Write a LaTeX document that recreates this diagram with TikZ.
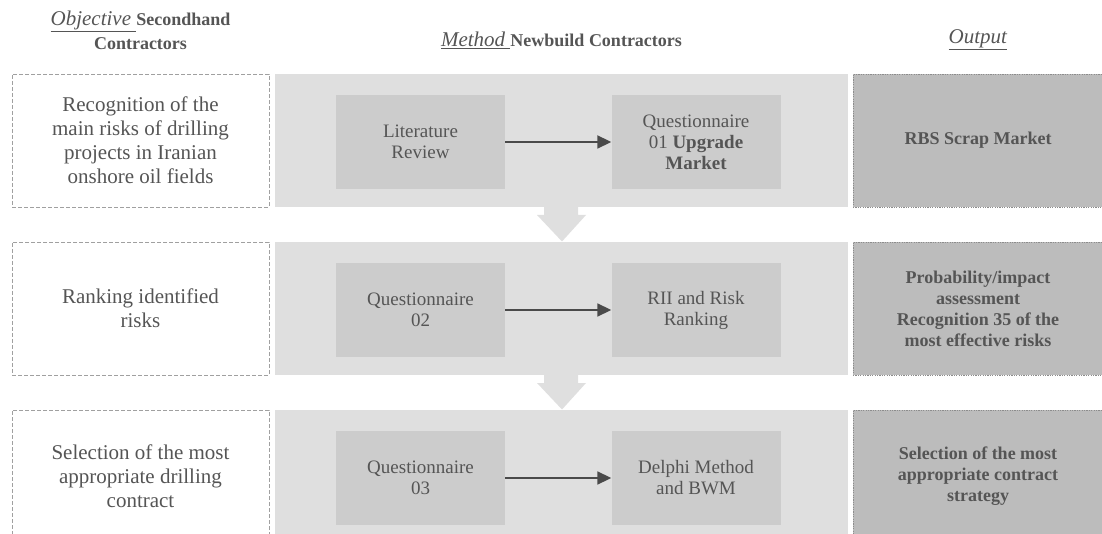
\documentclass[tikz,border=0pt]{standalone}
\usepackage{fontspec}
\setmainfont{Liberation Serif}
\usetikzlibrary{arrows.meta}
\definecolor{panelc}{HTML}{DFDFDF}
\definecolor{innerc}{HTML}{CCCCCC}
\definecolor{outc}{HTML}{BCBCBC}
\definecolor{txtc}{HTML}{555555}
\definecolor{arrc}{HTML}{4A4A4A}
\definecolor{dashc}{HTML}{A0A0A0}
\definecolor{dotc}{HTML}{8C8C8C}
\tikzset{
  objbox/.style={draw=dashc, line width=0.8pt, dash pattern=on 4pt off 2pt, fill=white,
    minimum width=257pt, minimum height=133pt, inner sep=0pt, align=center, text=txtc,
    font=\fontsize{21}{24}\selectfont},
  panelbox/.style={fill=panelc, minimum width=573pt, minimum height=133pt, inner sep=0pt},
  innerbox/.style={fill=innerc, minimum width=169pt, minimum height=94pt, inner sep=0pt,
    align=center, text=txtc, font=\fontsize{19}{21}\selectfont},
  outbox/.style={fill=outc, draw=dotc, line width=0.8pt, dash pattern=on 1.2pt off 1.2pt,
    minimum width=250pt, minimum height=133pt, inner sep=0pt, align=center, text=txtc,
    font=\bfseries\fontsize{18}{21}\selectfont},
  headtxt/.style={align=center, text=txtc, inner sep=0pt, font=\bfseries\fontsize{18}{24}\selectfont},
  flowarr/.style={draw=arrc, line width=1.8pt, -{Triangle[length=14pt,width=13pt]}},
  downarr/.style={fill=panelc}
}
\newcommand{\hdital}[1]{{\mdseries\fontsize{21}{24}\selectfont\underline{\textit{#1}}}}
\begin{document}
\begin{tikzpicture}[x=1pt,y=-1pt]
\useasboundingbox (0,0) rectangle (1102,534);
\clip (0,0) rectangle (1102,534);

% headers
\node[headtxt] (h1) at (140.5,30) {\hdital{Objective\ }Secondhand\\Contractors};
\node[headtxt] (h2) at (561.5,40) {\hdital{Method\ }Newbuild Contractors};
\node[headtxt] (h3) at (978,40) {\hdital{Output}};

% row 1
\node[objbox] (o1) at (140.5,140.5) {Recognition of the\\main risks of drilling\\projects in Iranian\\onshore oil fields};
\node[panelbox] (p1) at (561.5,140.5) {};
\node[innerbox] (a1) at (420.5,142) {Literature\\Review};
\node[innerbox] (b1) at (696,142) {Questionnaire\\01 \textbf{Upgrade}\\\textbf{Market}};
\node[outbox] (c1) at (978,140.5) {RBS Scrap Market};
\draw[flowarr] (a1) -- (b1);

% row 2
\node[objbox] (o2) at (140.5,308.5) {Ranking identified\\risks};
\node[panelbox] (p2) at (561.5,308.5) {};
\node[innerbox] (a2) at (420.5,310) {Questionnaire\\02};
\node[innerbox] (b2) at (696,310) {RII and Risk\\Ranking};
\node[outbox] (c2) at (978,308.5) {Probability/impact\\assessment\\Recognition 35 of the\\most effective risks};
\draw[flowarr] (a2) -- (b2);

% row 3
\node[objbox] (o3) at (140.5,476.5) {Selection of the most\\appropriate drilling\\contract};
\node[panelbox] (p3) at (561.5,476.5) {};
\node[innerbox] (a3) at (420.5,478) {Questionnaire\\03};
\node[innerbox] (b3) at (696,478) {Delphi Method\\and BWM};
\node[outbox] (c3) at (978,476.5) {Selection of the most\\appropriate contract\\strategy};
\draw[flowarr] (a3) -- (b3);

% down arrows between panels
\fill[downarr] (544,206) -- (578,206) -- (578,215) -- (586,215) -- (562,241.5) -- (537,215) -- (544,215) -- cycle;
\fill[downarr] (544,374) -- (578,374) -- (578,383) -- (586,383) -- (562,409.5) -- (537,383) -- (544,383) -- cycle;
\end{tikzpicture}
\end{document}
